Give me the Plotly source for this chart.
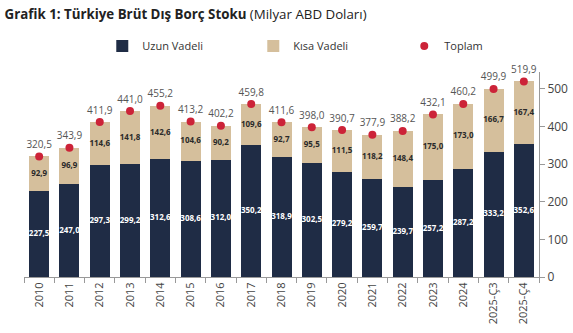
import plotly.graph_objects as go

years = ["2010", "2011", "2012", "2013", "2014", "2015", "2016", "2017", "2018",
         "2019", "2020", "2021", "2022", "2023", "2024", "2025-Ç3", "2025-Ç4"]
uzun = [227.5, 247.0, 297.3, 299.2, 312.6, 308.6, 312.0, 350.2, 318.9,
        302.5, 279.2, 259.7, 239.7, 257.2, 287.2, 333.2, 352.6]
kisa = [92.9, 96.9, 114.6, 141.8, 142.6, 104.6, 90.2, 109.6, 92.7,
        95.5, 111.5, 118.2, 148.4, 175.0, 173.0, 166.7, 167.4]
toplam = [320.5, 343.9, 411.9, 441.0, 455.2, 413.2, 402.2, 459.8, 411.6,
          398.0, 390.7, 377.9, 388.2, 432.1, 460.2, 499.9, 519.9]

NAVY = "#1f2c45"
TAN = "#d5bf9c"
RED = "#cc2338"
FONT = "Open Sans"


def fmt(v):
    return f"{v:.1f}".replace(".", ",")


fig = go.Figure()
fig.add_trace(go.Bar(x=years, y=uzun, name="Uzun Vadeli", marker_color=NAVY,
                     marker_line_width=0))
fig.add_trace(go.Bar(x=years, y=kisa, name="Kısa Vadeli", marker_color=TAN,
                     marker_line_width=0))
fig.add_trace(go.Scatter(x=years, y=toplam, name="Toplam", mode="markers+text",
                         marker=dict(color=RED, size=8),
                         text=[fmt(v) for v in toplam], textposition="top center",
                         cliponaxis=False,
                         textfont=dict(size=10, color="#555555")))

# segment value labels centred in each stack segment
fig.add_trace(go.Scatter(x=years, y=[u / 2 for u in uzun], mode="text",
                         text=[fmt(v) for v in uzun], showlegend=False,
                         hoverinfo="skip", cliponaxis=False,
                         textfont=dict(size=8, color="white", family=FONT, weight="bold")))
fig.add_trace(go.Scatter(x=years, y=[u + k / 2 for u, k in zip(uzun, kisa)], mode="text",
                         text=[fmt(v) for v in kisa], showlegend=False,
                         hoverinfo="skip", cliponaxis=False,
                         textfont=dict(size=8, color="#2a2a2a", family=FONT, weight="bold")))

fig.update_layout(
    width=573, height=333,
    barmode="stack", bargap=0.34,
    paper_bgcolor="white", plot_bgcolor="white",
    margin=dict(l=24, r=34, t=72, b=56),
    font=dict(family=FONT, color="#333333"),
    title=dict(text="<b>Grafik 1: Türkiye Brüt Dış Borç Stoku</b> (Milyar ABD Doları)",
               x=0.008, xanchor="left", y=0.958, yanchor="middle",
               font=dict(size=13.3, color="#222222")),
    legend=dict(orientation="h", x=0.152, xanchor="left", y=1.127, yanchor="middle",
                entrywidth=106, font=dict(size=11, color="#333333"),
                itemwidth=30, traceorder="normal"),
    xaxis=dict(range=[-0.5, len(years) - 0.5], tickangle=-90,
               tickfont=dict(size=11, color="#444444"),
               ticks="outside", tickson="boundaries", ticklen=5, tickcolor="#999999",
               showline=True, linecolor="#999999", showgrid=False, automargin=False),
    yaxis=dict(side="right", range=[0, 545], dtick=100, showgrid=False,
               showline=True, linecolor="#999999", ticks="outside", ticklen=5,
               tickcolor="#999999", tickfont=dict(size=12, color="#444444"),
               zeroline=False, automargin=False),
)

fig.write_html("out.html")
